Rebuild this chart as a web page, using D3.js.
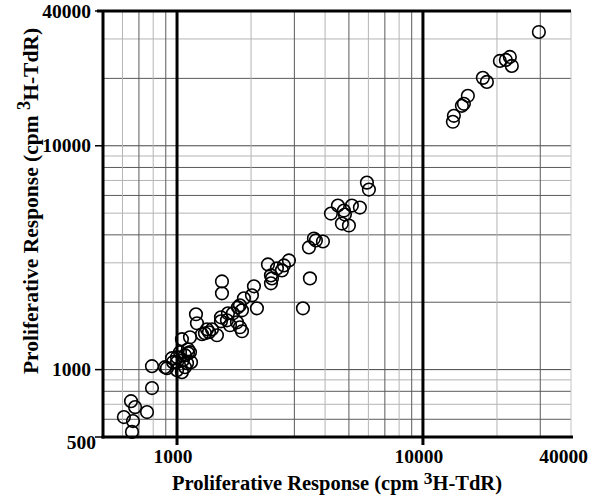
<!DOCTYPE html>
<html>
<head>
<meta charset="utf-8">
<script src="https://cdn.jsdelivr.net/npm/d3@7"></script>
<style>
  html, body { margin: 0; padding: 0; background: #fff; }
  svg { display: block; }
  text { font-family: "Liberation Serif", "Times New Roman", serif; font-weight: bold; fill: #000; }
</style>
</head>
<body>
<svg id="chart" width="599" height="497"></svg>
<script>
// Proliferative responses (cpm 3H-TdR): x = first assay, y = second assay
const xValues = [
  608, 650, 675, 662, 755, 656, 791, 791, 894, 963,
  910, 954, 1000, 1028, 1077, 1108, 1129, 1000, 1057, 1098,
  1140, 1000, 1047, 1077, 1047, 1129, 1263, 1108, 1194, 1205,
  1299, 1324, 1349, 1387, 1453, 1523, 1523, 1509, 1509, 1596,
  1611, 1642, 1688, 1753, 1769, 1837, 1837, 1802, 1871, 2017,
  2055, 2113, 1802, 2343, 2548, 2670, 2721, 2851, 2410, 2432,
  2410, 3471, 3251, 3439, 3603, 3671, 3920, 4225, 4511, 4771,
  4816, 5142, 5541, 4682, 5000, 5918, 6030, 13235, 13360, 14400,
  14673, 15229, 17525, 18197, 20550, 21735, 22563, 22989, 29610
];
const yValues = [
  614, 723, 680, 589, 646, 527, 827, 1036, 1025, 1079,
  1015, 1125, 1136, 1196, 1160, 1184, 1196, 1079, 1102, 1068,
  1079, 994, 974, 1025, 1367, 1395, 1439, 1233, 1767, 1611,
  1454, 1515, 1469, 1515, 1424, 2478, 2192, 1713, 1644, 1661,
  1785, 1578, 1785, 1627, 1898, 1841, 1484, 1546, 2082, 2147,
  2355, 1879, 1937, 2950, 2833, 2775, 2921, 3075, 2636, 2556,
  2429, 2556, 1879, 3513, 3853, 3775, 3736, 4979, 5405, 5134,
  4929, 5405, 5296, 4494, 4403, 6845, 6372, 12800, 13612, 15087,
  15396, 16716, 20107, 19293, 23930, 24170, 24935, 22740, 32235
];

const xTickValues = [1000, 10000, 40000];
const xTickLabels = ["1000", "10000", "40000"];
const yTickValues = [500, 1000, 10000, 40000];
const yTickLabels = ["500", "1000", "10000", "40000"];

// log-cycle grid: minor lines inside each decade, heavy lines at the decades
const minorGrid = [600, 700, 800, 900, 2000, 3000, 4000, 5000, 6000, 7000, 8000, 9000, 20000, 30000];
const decadeLines = [1000, 10000];

const axisTitle = "Proliferative Response (cpm ";
const axisTitleTail = "H-TdR)";

const svg = d3.select("#chart");
const x = d3.scaleLog().domain([500, 40000]).range([103, 571]);
const y = d3.scaleLog().domain([500, 40000]).range([437, 11]);

const grid = svg.append("g");
const shade = (i) => (i % 2 === 0 ? "#b4b4b4" : "#5a5a5a");

// horizontal minor grid
grid.selectAll("line.h").data(minorGrid).join("line")
  .attr("class", "h")
  .attr("x1", x(500)).attr("x2", x(40000))
  .attr("y1", d => y(d)).attr("y2", d => y(d))
  .attr("stroke", (d, i) => shade(i + 1)).attr("stroke-width", 1);
// horizontal decade lines (thin)
grid.selectAll("line.hd").data(decadeLines).join("line")
  .attr("class", "hd")
  .attr("x1", x(500)).attr("x2", x(40000))
  .attr("y1", d => y(d)).attr("y2", d => y(d))
  .attr("stroke", "#444").attr("stroke-width", 1);
// vertical minor grid
grid.selectAll("line.v").data(minorGrid).join("line")
  .attr("class", "v")
  .attr("y1", y(500)).attr("y2", y(40000))
  .attr("x1", d => x(d)).attr("x2", d => x(d))
  .attr("stroke", (d, i) => shade(i)).attr("stroke-width", 1);
// right edge
grid.append("line")
  .attr("x1", x(40000)).attr("x2", x(40000))
  .attr("y1", y(500)).attr("y2", y(40000))
  .attr("stroke", "#c4c4c4").attr("stroke-width", 1);

// heavy decade verticals, continuing below the axis as ticks
svg.append("g").selectAll("line").data(decadeLines).join("line")
  .attr("x1", d => x(d)).attr("x2", d => x(d))
  .attr("y1", y(40000)).attr("y2", y(500) + 8)
  .attr("stroke", "#000").attr("stroke-width", 3);

// frame: left axis, bottom axis, top edge
svg.append("line").attr("x1", x(500)).attr("x2", x(500))
  .attr("y1", y(40000) - 1).attr("y2", y(500) + 1.5)
  .attr("stroke", "#000").attr("stroke-width", 3);
svg.append("line").attr("x1", x(500) - 1.5).attr("x2", x(40000) + 2)
  .attr("y1", y(500)).attr("y2", y(500))
  .attr("stroke", "#000").attr("stroke-width", 3);
svg.append("line").attr("x1", x(500) - 6).attr("x2", x(40000))
  .attr("y1", y(40000)).attr("y2", y(40000))
  .attr("stroke", "#000").attr("stroke-width", 3);

// y ticks
svg.append("g").selectAll("line").data(yTickValues).join("line")
  .attr("x1", x(500) - 8).attr("x2", x(500))
  .attr("y1", d => y(d)).attr("y2", d => y(d))
  .attr("stroke", "#000").attr("stroke-width", 1.5);

// y tick labels
svg.append("g").selectAll("text").data(yTickValues).join("text")
  .attr("x", (d, i) => (i === 0 ? x(500) - 7 : x(500) - 12))
  .attr("y", (d, i) => y(d) + (i === 0 ? 12 : 6.5))
  .attr("text-anchor", "end")
  .attr("font-size", 19.5)
  .text((d, i) => yTickLabels[i]);

// x tick labels
svg.append("g").selectAll("text").data(xTickValues).join("text")
  .attr("x", (d, i) => (i === xTickValues.length - 1 ? x(d) + 17 : x(d) - 4))
  .attr("y", 463)
  .attr("text-anchor", (d, i) => (i === xTickValues.length - 1 ? "end" : "middle"))
  .attr("font-size", 19.5)
  .text((d, i) => xTickLabels[i]);

// axis titles with superscript 3
function addTitle(g, size, rise) {
  g.append("tspan").text(axisTitle);
  g.append("tspan").attr("dy", -rise).attr("font-size", size * 0.85).text("3");
  g.append("tspan").attr("dy", rise).text(axisTitleTail);
}
const xt = svg.append("text")
  .attr("x", 337).attr("y", 490)
  .attr("text-anchor", "middle").attr("font-size", 20.5);
addTitle(xt, 20.5, 6);
const yt = svg.append("text")
  .attr("transform", "translate(38,201) rotate(-90)")
  .attr("text-anchor", "middle").attr("font-size", 21.5);
addTitle(yt, 21.5, 8);

// data points
const points = xValues.map((v, i) => ({ x: v, y: yValues[i] }));
svg.append("g").selectAll("circle").data(points).join("circle")
  .attr("cx", d => x(d.x)).attr("cy", d => y(d.y))
  .attr("r", 6.3)
  .attr("fill", "none")
  .attr("stroke", "#000").attr("stroke-width", 1.6);
</script>
</body>
</html>
